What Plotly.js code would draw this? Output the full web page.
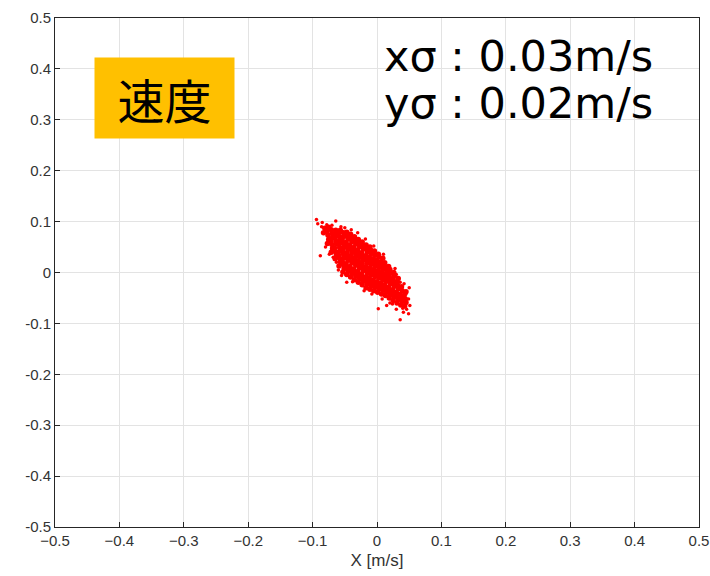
<!DOCTYPE html>
<html>
<head>
<meta charset="utf-8">
<script src="https://cdn.plot.ly/plotly-3.0.1.min.js"></script>
<style>html,body{margin:0;padding:0;background:#fff;}#chart{width:710px;height:576px;}</style>
</head>
<body>
<div id="chart"></div>
<script>
// Velocity samples [x m/s, y m/s] (dense core)
const coreSamples = [
[-0.083,0.078],[-0.081,0.087],
[-0.077,0.057],[-0.075,0.065],[-0.076,0.073],[-0.078,0.081],[-0.075,0.089],
[-0.071,0.040],[-0.069,0.047],[-0.070,0.055],[-0.072,0.062],[-0.069,0.069],[-0.070,0.077],[-0.071,0.084],
[-0.065,0.027],[-0.063,0.035],[-0.064,0.041],[-0.066,0.048],[-0.063,0.056],[-0.064,0.062],[-0.065,0.069],[-0.063,0.076],[-0.064,0.083],
[-0.059,0.013],[-0.057,0.021],[-0.058,0.028],[-0.060,0.035],[-0.057,0.042],[-0.058,0.049],[-0.059,0.056],[-0.057,0.063],[-0.058,0.070],[-0.060,0.077],[-0.057,0.083],
[-0.053,0.001],[-0.051,0.008],[-0.052,0.015],[-0.054,0.022],[-0.051,0.029],[-0.052,0.036],[-0.053,0.043],[-0.051,0.050],[-0.052,0.057],[-0.054,0.064],[-0.051,0.071],[-0.052,0.078],
[-0.047,-0.004],[-0.045,0.003],[-0.046,0.010],[-0.048,0.017],[-0.045,0.024],[-0.046,0.031],[-0.047,0.038],[-0.045,0.045],[-0.046,0.052],[-0.048,0.059],[-0.045,0.066],[-0.046,0.073],[-0.047,0.079],
[-0.041,-0.009],[-0.039,-0.002],[-0.040,0.005],[-0.042,0.012],[-0.039,0.019],[-0.040,0.026],[-0.041,0.033],[-0.039,0.040],[-0.040,0.047],[-0.042,0.054],[-0.039,0.061],[-0.040,0.068],[-0.041,0.075],
[-0.035,-0.014],[-0.033,-0.007],[-0.034,0.000],[-0.036,0.007],[-0.033,0.014],[-0.034,0.021],[-0.035,0.028],[-0.033,0.035],[-0.034,0.042],[-0.036,0.049],[-0.033,0.056],[-0.034,0.063],[-0.035,0.070],
[-0.029,-0.019],[-0.027,-0.012],[-0.028,-0.005],[-0.030,0.002],[-0.027,0.009],[-0.028,0.016],[-0.029,0.023],[-0.027,0.030],[-0.028,0.037],[-0.030,0.044],[-0.027,0.051],[-0.028,0.058],[-0.029,0.065],
[-0.023,-0.024],[-0.021,-0.017],[-0.022,-0.010],[-0.024,-0.003],[-0.021,0.004],[-0.022,0.011],[-0.023,0.018],[-0.021,0.025],[-0.022,0.032],[-0.024,0.039],[-0.021,0.046],[-0.022,0.053],[-0.023,0.060],
[-0.017,-0.030],[-0.015,-0.023],[-0.016,-0.016],[-0.018,-0.009],[-0.015,-0.002],[-0.016,0.005],[-0.017,0.012],[-0.015,0.019],[-0.016,0.026],[-0.018,0.033],[-0.015,0.040],[-0.016,0.047],[-0.017,0.054],
[-0.011,-0.033],[-0.009,-0.026],[-0.010,-0.019],[-0.012,-0.012],[-0.009,-0.005],[-0.010,0.002],[-0.011,0.009],[-0.009,0.016],[-0.010,0.023],[-0.012,0.030],[-0.009,0.037],[-0.010,0.044],[-0.011,0.050],
[-0.005,-0.036],[-0.003,-0.029],[-0.004,-0.022],[-0.006,-0.015],[-0.003,-0.008],[-0.004,-0.001],[-0.005,0.006],[-0.003,0.013],[-0.004,0.020],[-0.006,0.027],[-0.003,0.034],[-0.004,0.042],
[0.001,-0.039],[0.003,-0.032],[0.002,-0.025],[0.000,-0.018],[0.003,-0.011],[0.002,-0.004],[0.001,0.003],[0.003,0.010],[0.002,0.017],[0.000,0.024],[0.003,0.031],[0.002,0.036],
[0.007,-0.042],[0.009,-0.035],[0.008,-0.028],[0.006,-0.021],[0.009,-0.014],[0.008,-0.007],[0.007,0.000],[0.009,0.007],[0.008,0.014],[0.006,0.021],[0.009,0.028],
[0.013,-0.045],[0.015,-0.038],[0.014,-0.031],[0.012,-0.024],[0.015,-0.017],[0.014,-0.010],[0.013,-0.003],[0.015,0.004],[0.014,0.011],[0.012,0.019],
[0.019,-0.050],[0.021,-0.043],[0.020,-0.036],[0.018,-0.029],[0.021,-0.022],[0.020,-0.015],[0.019,-0.008],[0.021,-0.001],[0.020,0.006],[0.018,0.012],
[0.025,-0.055],[0.027,-0.048],[0.026,-0.041],[0.024,-0.034],[0.027,-0.027],[0.026,-0.020],[0.025,-0.013],[0.027,-0.006],[0.026,0.000],
[0.031,-0.060],[0.033,-0.053],[0.032,-0.046],[0.030,-0.039],[0.033,-0.032],[0.032,-0.025],[0.031,-0.018],[0.033,-0.012],
[0.037,-0.064],[0.039,-0.057],[0.038,-0.050],[0.036,-0.043],[0.039,-0.036],[0.038,-0.028],
[0.043,-0.066],[0.045,-0.059],[0.044,-0.052],[0.042,-0.045],[0.045,-0.038]
];
// scattered outer samples
const outerSamples = [
[-0.094,0.104],[-0.085,0.098],[-0.064,0.101],[-0.088,0.033],[-0.092,0.096],[-0.070,0.093],[-0.050,0.088],[-0.030,0.078],
[-0.063,0.020],[-0.047,-0.019],[-0.060,0.005],[-0.038,-0.018],[-0.020,-0.036],[-0.008,-0.042],[0.002,-0.071],[0.015,-0.065],
[0.008,-0.052],[0.036,-0.093],[0.049,-0.081],[0.041,-0.078],[0.051,-0.065],[0.049,-0.052],[0.045,-0.042],[0.036,-0.019],
[0.030,-0.072],[0.024,-0.062],[0.050,-0.030],[0.010,0.036],[-0.005,0.052],[-0.018,0.066],[0.028,0.008],[-0.080,0.050],
[-0.074,0.036],[0.020,-0.060],[-0.086,0.090],[-0.078,0.094],[-0.056,0.090],[-0.040,0.084],[-0.068,0.030],[-0.055,-0.006],
[0.040,-0.070],[0.046,-0.072],[0.030,-0.004],[0.042,-0.022]
];

const tickValues = [-0.5,-0.4,-0.3,-0.2,-0.1,0,0.1,0.2,0.3,0.4,0.5];
const xTickLabels = ["\u22120.5","\u22120.4","\u22120.3","\u22120.2","\u22120.1","0","0.1","0.2","0.3","0.4","0.5"];
const yTickLabels = ["-0.5","-0.4","-0.3","-0.2","-0.1","0","0.1","0.2","0.3","0.4","0.5"];
const xAxisTitle = "X [m/s]";
const panelLabel = "速度";
const sigmaLines = ["xσ : 0.03m/s", "yσ : 0.02m/s"];

const tickFont = {family: 'Liberation Sans, Arial, sans-serif', size: 15, color: '#333333'};

const axisCommon = {
  range: [-0.5, 0.5],
  tickmode: 'array',
  tickvals: tickValues,
  ticks: 'inside',
  ticklen: 5,
  tickcolor: '#262626',
  showline: true,
  linecolor: '#262626',
  linewidth: 1,
  mirror: true,
  showgrid: true,
  gridcolor: '#e3e3e3',
  gridwidth: 1,
  zeroline: false,
  tickfont: tickFont,
  ticklabeloverflow: 'allow'
};

const layout = {
  width: 710, height: 576,
  margin: {l: 55, r: 11, t: 18, b: 49},
  paper_bgcolor: '#ffffff',
  plot_bgcolor: '#ffffff',
  showlegend: false,
  xaxis: Object.assign({}, axisCommon, {
    ticktext: xTickLabels,
    title: {text: xAxisTitle, standoff: 6, font: {family: 'Liberation Sans, Arial, sans-serif', size: 17, color: '#333333'}}
  }),
  yaxis: Object.assign({}, axisCommon, {ticktext: yTickLabels}),
  annotations: [
    {xref: 'paper', yref: 'paper', x: 0.1706, y: 0.843, xanchor: 'center', yanchor: 'middle',
     text: panelLabel, showarrow: false, bgcolor: '#FFC000', width: 137, height: 78,
     font: {family: 'Noto Sans CJK JP', size: 47, color: '#000000'}},
    {xref: 'paper', yref: 'paper', x: 0.507, y: 0.925, xanchor: 'left', yanchor: 'middle',
     text: sigmaLines[0], showarrow: false,
     font: {family: 'DejaVu Sans', size: 43, color: '#000000'}},
    {xref: 'paper', yref: 'paper', x: 0.507, y: 0.833, xanchor: 'left', yanchor: 'middle',
     text: sigmaLines[1], showarrow: false,
     font: {family: 'DejaVu Sans', size: 43, color: '#000000'}}
  ]
};

const coreTrace = {
  type: 'scatter', mode: 'markers',
  x: coreSamples.map(p => p[0]), y: coreSamples.map(p => p[1]),
  marker: {color: '#ff0000', size: 5.5, line: {width: 0}}
};
const outerTrace = {
  type: 'scatter', mode: 'markers',
  x: outerSamples.map(p => p[0]), y: outerSamples.map(p => p[1]),
  marker: {color: '#ff0000', size: 3.5, line: {width: 0}}
};

Plotly.newPlot('chart', [coreTrace, outerTrace], layout, {displayModeBar: false, staticPlot: true});
</script>
</body>
</html>
